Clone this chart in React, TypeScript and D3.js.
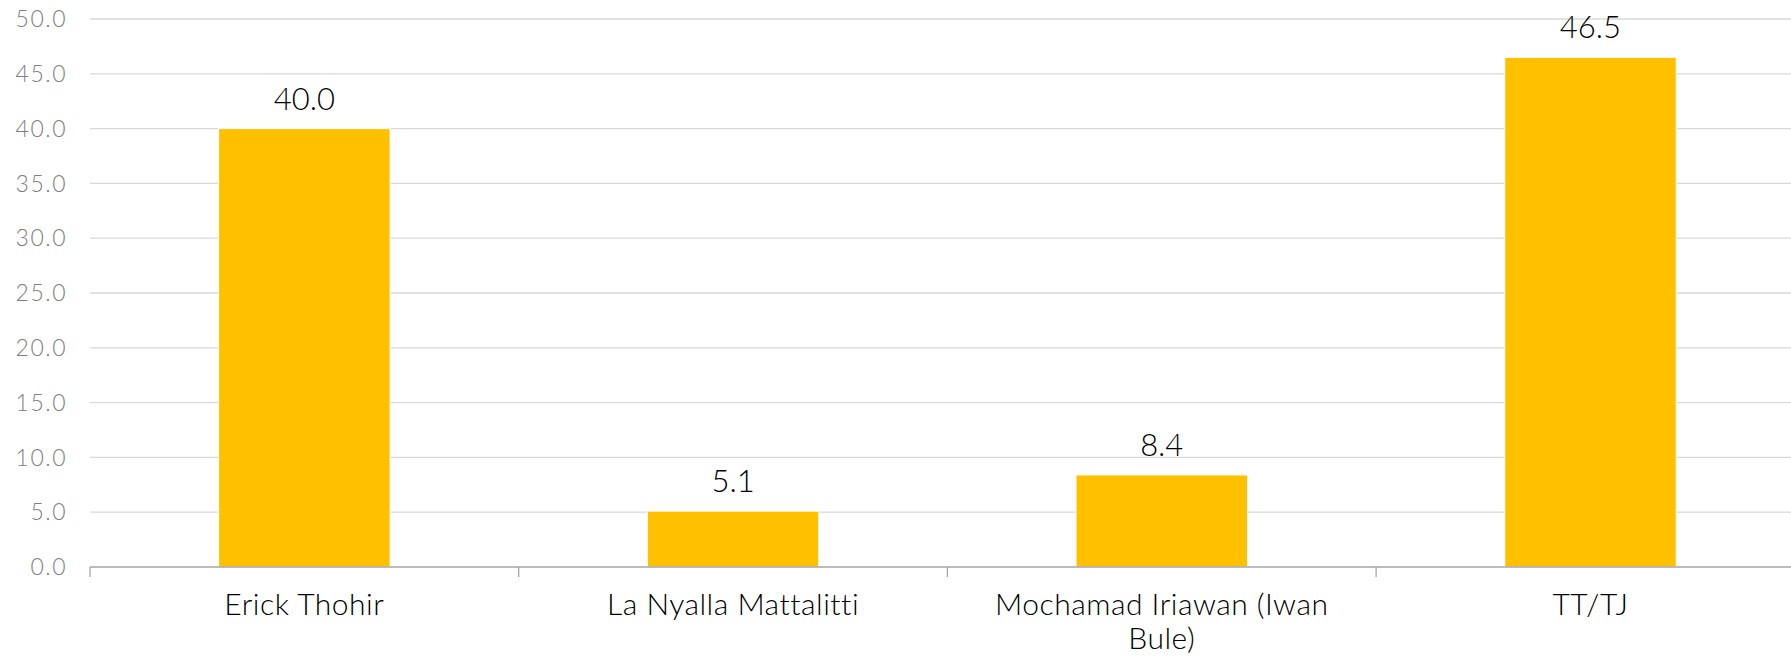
import React from "react";
import * as d3 from "d3";

const categories = ["Erick Thohir", "La Nyalla Mattalitti", "Mochamad Iriawan (Iwan Bule)", "TT/TJ"];
const values = [40.0, 5.1, 8.4, 46.5];
const yTicks = [0, 5, 10, 15, 20, 25, 30, 35, 40, 45, 50];

const W = 1791;
const H = 657;
const FONT = "Lato, 'Open Sans', sans-serif";
const CAT_SIZE = 30;

function wrap(text: string, maxWidth: number): string[] {
  const canvas = document.createElement("canvas");
  const ctx = canvas.getContext("2d")!;
  ctx.font = `300 ${CAT_SIZE}px ${FONT}`;
  const words = text.split(" ");
  const lines: string[] = [];
  let cur = "";
  for (const w of words) {
    const test = cur ? cur + " " + w : w;
    if (ctx.measureText(test).width > maxWidth && cur) {
      lines.push(cur);
      cur = w;
    } else cur = test;
  }
  if (cur) lines.push(cur);
  return lines;
}

export default function App() {
  const left = 90;
  const step = 428.7;
  const x = d3
    .scaleBand<string>()
    .domain(categories)
    .range([left, left + step * categories.length])
    .paddingInner(0.6)
    .paddingOuter(0.3);
  const y = d3.scaleLinear().domain([0, 50]).range([567, 19]);
  const s = x.step();
  const x0 = left;

  return (
    <svg width={W} height={H} style={{ position: "absolute", left: 0, top: 0, display: "block" }}>
      <rect width={W} height={H} fill="#fff" />
      {yTicks.map((t) =>
        t === 0 ? null : (
          <line key={t} x1={x0} x2={W} y1={y(t)} y2={y(t)} stroke="#d9d9d9" strokeWidth={1.3} />
        )
      )}
      {yTicks.map((t) => (
        <text
          key={"l" + t}
          x={67}
          y={y(t)}
          dy="0.36em"
          textAnchor="end"
          fontFamily={FONT}
          fontWeight={300}
          fontSize={23}
          letterSpacing={1.5}
          fill="#808080"
        >
          {d3.format(".1f")(t)}
        </text>
      ))}
      {categories.map((c, i) => (
        <rect
          key={c}
          x={x(c)!}
          y={y(values[i])}
          width={x.bandwidth()}
          height={y(0) - y(values[i])}
          fill="#FFC000"
          stroke="#fff"
          strokeWidth={1}
        />
      ))}
      <line x1={x0} x2={W} y1={y(0)} y2={y(0)} stroke="#a6a6a6" strokeWidth={1.3} />
      {d3.range(categories.length + 1).map((i) => (
        <line key={"t" + i} x1={x0 + i * s} x2={x0 + i * s} y1={y(0)} y2={y(0) + 10} stroke="#a6a6a6" strokeWidth={1.3} />
      ))}
      {categories.map((c, i) => (
        <text
          key={"v" + c}
          x={x(c)! + x.bandwidth() / 2}
          y={y(values[i]) - 19}
          textAnchor="middle"
          fontFamily={FONT}
          fontWeight={300}
          fontSize={31}
          fill="#000"
        >
          {d3.format(".1f")(values[i])}
        </text>
      ))}
      {categories.map((c) => {
        const lines = wrap(c, s * 0.9);
        return (
          <text
            key={"c" + c}
            x={x(c)! + x.bandwidth() / 2}
            y={615}
            textAnchor="middle"
            fontFamily={FONT}
            fontWeight={300}
            fontSize={CAT_SIZE}
            letterSpacing={0.5}
            fill="#000"
          >
            {lines.map((ln, j) => (
              <tspan key={j} x={x(c)! + x.bandwidth() / 2} dy={j === 0 ? 0 : 34}>
                {ln}
              </tspan>
            ))}
          </text>
        );
      })}
    </svg>
  );
}
